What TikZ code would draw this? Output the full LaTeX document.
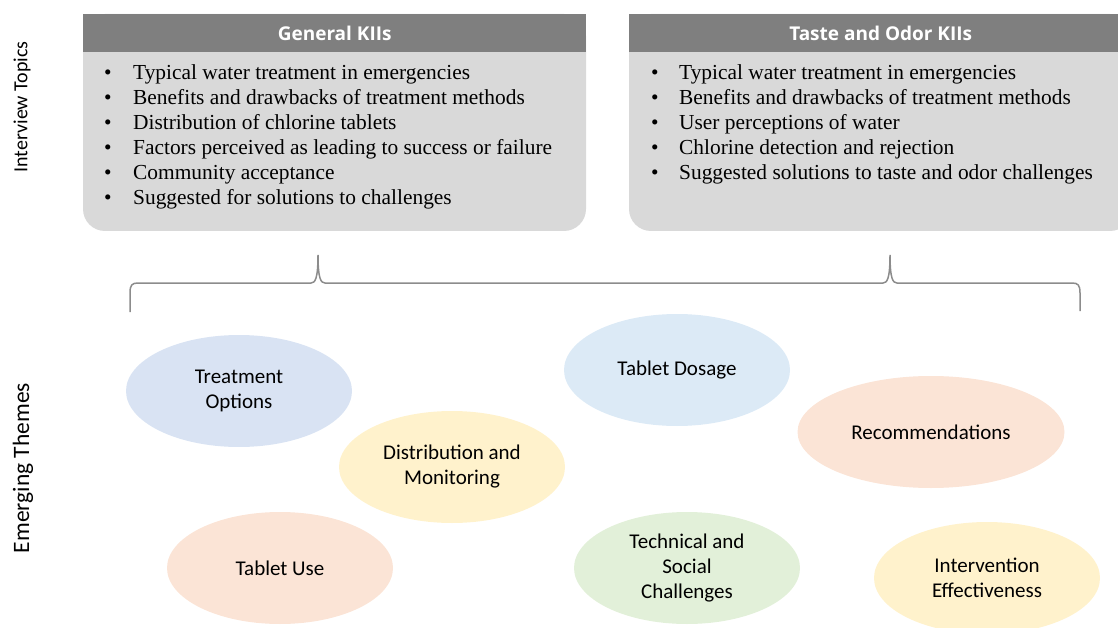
\documentclass[tikz,border=0pt]{standalone}
\usepackage{fontspec}
\setmainfont{Liberation Serif}
\newfontfamily\calibri{Carlito}
\newfontfamily\opensans{Open Sans}
\usetikzlibrary{shapes.geometric}
\definecolor{hdrgray}{HTML}{7F7F7F}
\definecolor{bodygray}{HTML}{D9D9D9}
\definecolor{braceg}{HTML}{8C8C8C}
\definecolor{blueA}{HTML}{D9E3F3}
\definecolor{blueB}{HTML}{DCEAF6}
\definecolor{peach}{HTML}{FBE4D6}
\definecolor{yell}{HTML}{FFF2CC}
\definecolor{green}{HTML}{E2F0D9}
\tikzset{
  bodybox/.style={fill=bodygray, rounded corners=22pt},
  hdr/.style={fill=hdrgray, text=white, inner sep=0pt, anchor=north west,
    minimum width=503pt, minimum height=38pt,
    font=\opensans\bfseries\fontsize{19}{22}\selectfont},
  bul/.style={anchor=base west, inner sep=0pt, font=\fontsize{21.4}{25}\selectfont},
  ell/.style={ellipse, draw=none, inner sep=0pt, align=center,
    minimum width=226pt, minimum height=112pt,
    font=\calibri\fontsize{21}{25}\selectfont},
  side/.style={rotate=90, inner sep=0pt, font=\calibri\fontsize{23.5}{27}\selectfont},
  brace/.style={draw=braceg, line width=1.5pt}
}
\newcommand{\bl}[1]{\makebox[29pt][l]{\textbullet}#1}
\newcommand{\br}[1]{\makebox[28pt][l]{\textbullet}#1}
\begin{document}
\begin{tikzpicture}[x=1pt,y=-1pt]
\useasboundingbox (0,0) rectangle (1118,628);
\clip (0,0) rectangle (1118,628);

% left box
\fill[bodybox] (83,14) rectangle (586,231);
\node[hdr] (hdrL) at (83,14) {General KIIs};
\node[bul] (l1) at (104,80) {\bl{Typical water treatment in emergencies}};
\node[bul] (l2) at (104,105) {\bl{Benefits and drawbacks of treatment methods}};
\node[bul] (l3) at (104,130) {\bl{Distribution of chlorine tablets}};
\node[bul] (l4) at (104,155) {\bl{Factors perceived as leading to success or failure}};
\node[bul] (l5) at (104,180) {\bl{Community acceptance}};
\node[bul] (l6) at (104,205) {\bl{Suggested for solutions to challenges}};

% right box
\fill[bodybox] (629,14) rectangle (1132,231);
\node[hdr] (hdrR) at (629,14) {Taste and Odor KIIs};
\node[bul] (r1) at (651,80) {\br{Typical water treatment in emergencies}};
\node[bul] (r2) at (651,105) {\br{Benefits and drawbacks of treatment methods}};
\node[bul] (r3) at (651,130) {\br{User perceptions of water}};
\node[bul] (r4) at (651,155) {\br{Chlorine detection and rejection}};
\node[bul] (r5) at (651,180) {\br{Suggested solutions to taste and odor challenges}};

% side labels
\node[side, font=\calibri\fontsize{20}{24}\selectfont] (it) at (22,107) {Interview Topics};
\node[side] (et) at (23,468) {Emerging Themes};

% brace
\coordinate (bL) at (130,312);
\coordinate (bR) at (1080,311);
\draw[brace] (bL) -- (130,293) .. controls (130,285) and (132,283) .. (138,283)
  -- (311,283) .. controls (315,283) and (318,279) .. (318,255)
  .. controls (318,279) and (321,283) .. (325,283)
  -- (883,283) .. controls (887,283) and (890,279) .. (890,255)
  .. controls (890,279) and (893,283) .. (897,283)
  -- (1072,283) .. controls (1078,283) and (1080,285) .. (1080,293) -- (bR);

% themes
\node[ell, fill=blueA] (treat) at (239,391) {Treatment\\Options};
\node[ell, fill=blueB] (dose) at (677,370) {Tablet Dosage};
\node[ell, fill=peach, minimum width=267pt] (rec) at (931,432) {Recommendations};
\node[ell, fill=yell] (dist) at (452,467) {Distribution and\\Monitoring};
\node[ell, fill=peach] (use) at (280,568) {Tablet Use};
\node[ell, fill=green] (tech) at (687,568) {Technical and\\Social\\Challenges};
\node[ell, fill=yell] (eff) at (987,578) {Intervention\\Effectiveness};
\end{tikzpicture}
\end{document}
